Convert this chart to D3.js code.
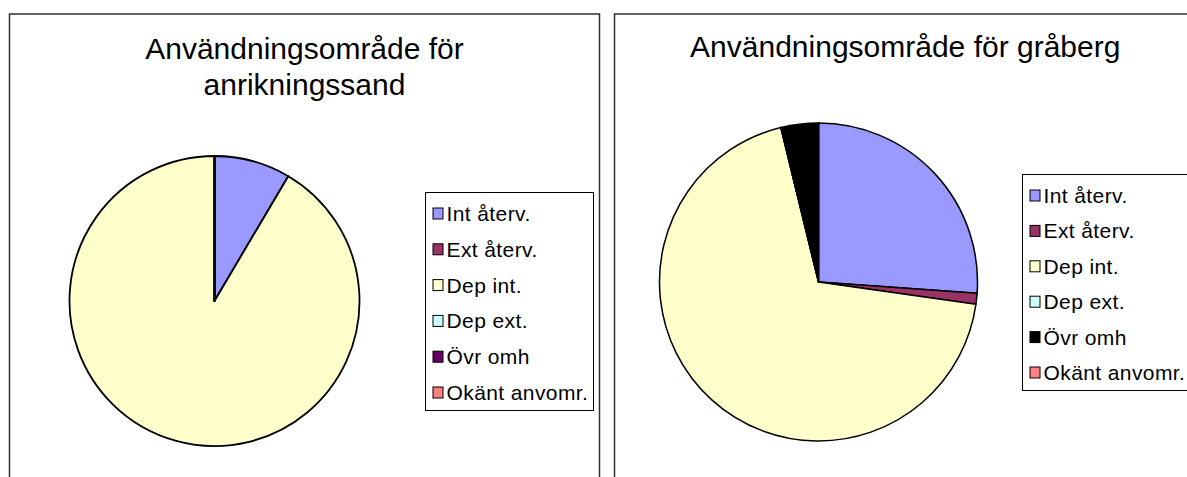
<!DOCTYPE html>
<html lang="sv">
<head>
<meta charset="UTF-8">
<title>Användningsområde</title>
<script src="https://d3js.org/d3.v7.min.js"></script>
<style>
  body { margin: 0; background: #fff; }
  text { font-family: "Liberation Sans", Arial, sans-serif; fill: #000; }
</style>
</head>
<body>
<div id="chart"></div>
<script>
// legend categories (same for both charts)
var categories = ["Int återv.", "Ext återv.", "Dep int.", "Dep ext.", "Övr omh", "Okänt anvomr."];

// share in percent
var sandValues = [8.5, 0, 91.5, 0, 0, 0];
var rockValues = [26.1, 1.1, 68.9, 0, 3.8, 0];

var sandColors = ["#9999ff", "#993366", "#ffffcc", "#ccffff", "#660066", "#ff8080"];
var rockColors = ["#9999ff", "#993366", "#ffffcc", "#ccffff", "#000000", "#ff8080"];

var sandTitle = ["Användningsområde för", "anrikningssand"];
var rockTitle = ["Användningsområde för gråberg"];

var width = 1187, height = 477;

var svg = d3.select("#chart")
  .append("svg")
  .attr("width", width)
  .attr("height", height);

function drawPanel(opts) {
  var g = svg.append("g");

  // chart area frame
  g.append("rect")
    .attr("x", opts.x0).attr("y", 14)
    .attr("width", opts.x1 - opts.x0).attr("height", 500)
    .attr("fill", "#fff")
    .attr("stroke", "#303030")
    .attr("stroke-width", 1.5);

  var cx = (opts.x0 + opts.x1) / 2;
  g.selectAll(".title")
    .data(opts.title)
    .enter().append("text")
    .attr("class", "title")
    .attr("x", cx)
    .attr("y", (d, i) => opts.titleY + i * 36)
    .attr("text-anchor", "middle")
    .style("font-size", "30px")
    .text(d => d);

  var data = categories.map((c, i) => ({ name: c, value: opts.values[i], color: opts.colors[i] }));

  var pie = d3.pie().sort(null).value(d => d.value);
  var arc = d3.arc().innerRadius(0).outerRadius(opts.r);

  g.append("g")
    .attr("transform", "translate(" + opts.pcx + "," + opts.pcy + ")")
    .selectAll("path")
    .data(pie(data))
    .enter().append("path")
    .attr("d", arc)
    .attr("fill", d => d.data.color)
    .attr("stroke", "#000")
    .attr("stroke-width", opts.sw)
    .attr("stroke-linejoin", "round");

  // legend
  var lg = g.append("g").attr("transform", "translate(" + opts.lx + "," + opts.ly + ")");
  lg.append("rect")
    .attr("x", 0).attr("y", 0)
    .attr("width", opts.lw).attr("height", opts.lh)
    .attr("fill", "#fff")
    .attr("stroke", "#000")
    .attr("stroke-width", 1);

  var y = d3.scalePoint().domain(categories).range([21, opts.lh - 18]);

  var item = lg.selectAll(".item")
    .data(data)
    .enter().append("g")
    .attr("class", "item")
    .attr("transform", d => "translate(0," + y(d.name) + ")");

  item.append("rect")
    .attr("x", 7.5).attr("y", -5.5)
    .attr("width", 10).attr("height", 11)
    .attr("fill", d => d.color)
    .attr("stroke", "#000")
    .attr("stroke-width", 1);

  item.append("text")
    .attr("x", 21)
    .attr("y", 7.5)
    .style("font-size", "21px")
    .style("letter-spacing", "0.4px")
    .text(d => d.name);
}

drawPanel({
  x0: 9.5, x1: 599.5, title: sandTitle, titleY: 59,
  values: sandValues, colors: sandColors,
  pcx: 214.5, pcy: 301, r: 145, sw: 1.8,
  lx: 425.5, ly: 192.5, lw: 168, lh: 218
});

drawPanel({
  x0: 614.5, x1: 1196, title: rockTitle, titleY: 57,
  values: rockValues, colors: rockColors,
  pcx: 818.5, pcy: 282, r: 159, sw: 1.5,
  lx: 1022.5, ly: 174.5, lw: 200, lh: 216
});
</script>
</body>
</html>
